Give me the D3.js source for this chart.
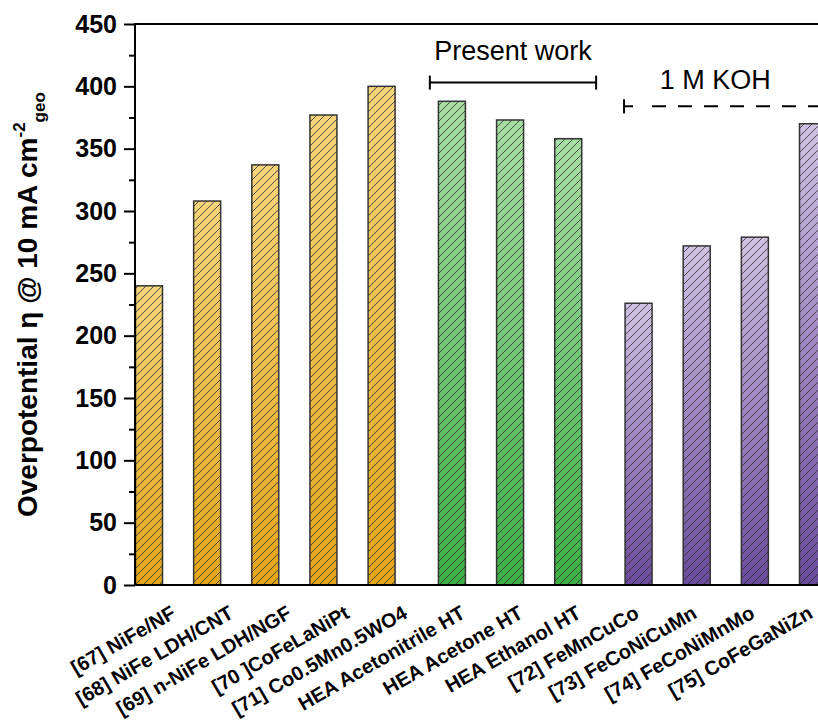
<!DOCTYPE html>
<html>
<head>
<meta charset="utf-8">
<script src="https://cdn.jsdelivr.net/npm/d3@7/dist/d3.min.js"></script>
<style>
    body { margin: 0; background: #fff; }
    text { font-family: "Liberation Sans", Arial, sans-serif; }
</style>
</head>
<body>
<div id="chart"></div>
<script>
'use strict';

var categories = [
    '[67] NiFe/NF',
    '[68] NiFe LDH/CNT',
    '[69] n-NiFe LDH/NGF',
    '[70 ]CoFeLaNiPt',
    '[71] Co0.5Mn0.5WO4',
    'HEA Acetonitrile HT',
    'HEA Acetone HT',
    'HEA Ethanol HT',
    '[72] FeMnCuCo',
    '[73] FeCoNiCuMn',
    '[74] FeCoNiMnMo',
    '[75] CoFeGaNiZn'
];
var values = [240, 308, 337, 377, 400, 388, 373, 358, 226, 272, 279, 370];
var groups = [0, 0, 0, 0, 0, 1, 1, 1, 2, 2, 2, 2];
var groupColors = [
    ['#f4d47a', '#e3a51b'],
    ['#a8dda4', '#3daf45'],
    ['#cfc1e3', '#6b4a9c']
];
var yTicks = d3.range(0, 451, 50);
var yMinorTicks = d3.range(25, 450, 50);

// annotations, in data units (slot, value)
var presentWork = {label: 'Present work', from: 4.83, to: 7.69, y: 403, textY: 421};
var koh = {label: '1 M KOH', from: 8.17, to: 13, y: 384, textX: 9.74, textY: 398};

var settings = {
    width: 818,
    height: 724,
    left: 135,
    top: 24,
    bottom: 585,
    groupGap: 0.21,
    barWidth: 27
};

var svg = d3.select('#chart').append('svg')
    .attr('width', settings.width)
    .attr('height', settings.height);

var y = d3.scaleLinear().domain([0, 450]).range([settings.bottom, settings.top]);
var xSlot = d3.scaleLinear().domain([0, 11.42]).range([149, 813]);
var xLabel = d3.scalePoint().domain(categories).range([177, 814]);

var slotOf = function(i){
    return i + groups[i] * settings.groupGap;
};

var defs = svg.append('defs');

groupColors.forEach(function(c, g){
    var grad = defs.append('linearGradient')
        .attr('id', 'grad' + g)
        .attr('x1', 0).attr('y1', 0)
        .attr('x2', 0).attr('y2', 1);
    grad.append('stop').attr('offset', '0%').attr('stop-color', c[0]);
    grad.append('stop').attr('offset', '100%').attr('stop-color', c[1]);
});

var hatch = defs.append('pattern')
    .attr('id', 'hatch')
    .attr('patternUnits', 'userSpaceOnUse')
    .attr('width', 8)
    .attr('height', 8);
hatch.append('path')
    .attr('d', 'M-2,2 L2,-2 M0,8 L8,0 M6,10 L10,6')
    .attr('stroke', '#2e2e2e')
    .attr('stroke-width', 0.8);

// bars
var bars = svg.append('g').selectAll('g.bar')
    .data(values)
    .enter()
    .append('g')
    .attr('class', 'bar');

bars.append('rect')
    .attr('x', function(d, i){ return xSlot(slotOf(i)) - settings.barWidth / 2; })
    .attr('y', function(d){ return y(d); })
    .attr('width', settings.barWidth)
    .attr('height', function(d){ return y(0) - y(d); })
    .attr('fill', function(d, i){ return 'url(#grad' + groups[i] + ')'; });

bars.append('rect')
    .attr('x', function(d, i){ return xSlot(slotOf(i)) - settings.barWidth / 2; })
    .attr('y', function(d){ return y(d); })
    .attr('width', settings.barWidth)
    .attr('height', function(d){ return y(0) - y(d); })
    .attr('fill', 'url(#hatch)')
    .attr('stroke', '#333')
    .attr('stroke-width', 1.5);

// y axis, major and minor ticks
var yAxis = svg.append('g')
    .attr('transform', 'translate(' + settings.left + ',0)')
    .call(d3.axisLeft(y).tickValues(yTicks).tickSize(11).tickSizeOuter(0).tickPadding(7));
yAxis.select('.domain').remove();
yAxis.selectAll('line').attr('stroke', '#000').attr('stroke-width', 2);
yAxis.selectAll('text')
    .attr('fill', '#000')
    .style('font-size', '25px')
    .style('font-weight', 'bold');

var yMinor = svg.append('g')
    .attr('transform', 'translate(' + settings.left + ',0)')
    .call(d3.axisLeft(y).tickValues(yMinorTicks).tickSize(6).tickFormat(''));
yMinor.select('.domain').remove();
yMinor.selectAll('line').attr('stroke', '#000').attr('stroke-width', 2);

// frame lines
var frame = svg.append('g').attr('stroke', '#000').attr('stroke-width', 2);
frame.append('line')
    .attr('x1', settings.left).attr('x2', settings.left)
    .attr('y1', y(450) - 1).attr('y2', y(0) + 1);
frame.append('line')
    .attr('x1', settings.left).attr('x2', settings.width)
    .attr('y1', y(450)).attr('y2', y(450));
frame.append('line')
    .attr('x1', settings.left).attr('x2', settings.width)
    .attr('y1', y(0)).attr('y2', y(0));

// category labels
svg.append('g').selectAll('text')
    .data(categories)
    .enter()
    .append('text')
    .attr('transform', function(d){ return 'translate(' + xLabel(d) + ',617) rotate(-30)'; })
    .attr('text-anchor', 'end')
    .style('font-size', '20px')
    .style('font-weight', 'bold')
    .text(function(d){ return d; });

// y label
var ylab = svg.append('text')
    .attr('transform', 'translate(37,517) rotate(-90)')
    .attr('text-anchor', 'start')
    .style('font-size', '28px')
    .style('font-weight', 'bold');
ylab.append('tspan').text('Overpotential \u03b7 @ 10 mA cm');
ylab.append('tspan').attr('dy', -12).style('font-size', '17px').text('-2');
ylab.append('tspan').attr('dy', 20).style('font-size', '17px').text('geo');

// present work bracket
var pw = svg.append('g').attr('stroke', '#000').attr('stroke-width', 2);
pw.append('line')
    .attr('x1', xSlot(presentWork.from)).attr('x2', xSlot(presentWork.to))
    .attr('y1', y(presentWork.y)).attr('y2', y(presentWork.y));
[presentWork.from, presentWork.to].forEach(function(s){
    pw.append('line')
        .attr('x1', xSlot(s)).attr('x2', xSlot(s))
        .attr('y1', y(presentWork.y) - 7).attr('y2', y(presentWork.y) + 7);
});
svg.append('text')
    .attr('x', (xSlot(presentWork.from) + xSlot(presentWork.to)) / 2)
    .attr('y', y(presentWork.textY))
    .attr('text-anchor', 'middle')
    .style('font-size', '27px')
    .text(presentWork.label);

// 1 M KOH dashed bracket
var kg = svg.append('g').attr('stroke', '#000').attr('stroke-width', 2);
kg.append('line')
    .attr('x1', xSlot(koh.from)).attr('x2', xSlot(koh.from))
    .attr('y1', y(koh.y) - 7).attr('y2', y(koh.y) + 7);
kg.append('line')
    .attr('x1', xSlot(koh.from)).attr('x2', xSlot(koh.from) + 9)
    .attr('y1', y(koh.y)).attr('y2', y(koh.y));
kg.append('line')
    .attr('x1', xSlot(koh.from) + 28).attr('x2', xSlot(koh.to))
    .attr('y1', y(koh.y)).attr('y2', y(koh.y))
    .attr('stroke-dasharray', '14,12');
svg.append('text')
    .attr('x', xSlot(koh.textX))
    .attr('y', y(koh.textY))
    .attr('text-anchor', 'middle')
    .style('font-size', '27px')
    .text(koh.label);
</script>
</body>
</html>
